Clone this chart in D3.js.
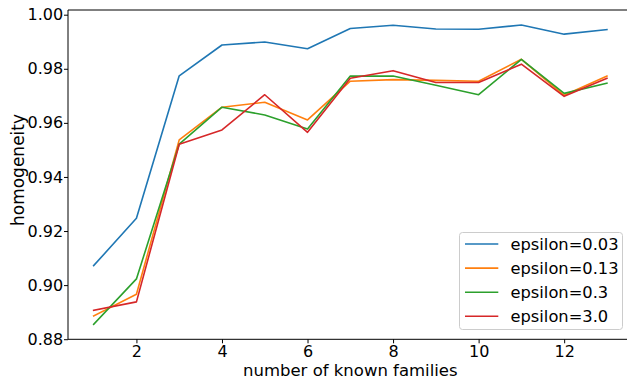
<!DOCTYPE html>
<html>
<head>
<meta charset="utf-8">
<script src="https://cdn.jsdelivr.net/npm/d3@7"></script>
<style>
  body { margin: 0; background: #fff; }
  svg { display: block; font-family: "DejaVu Sans", sans-serif; }
</style>
</head>
<body>
<div id="chart"></div>
<script>
'use strict'
// number of known families
var families = [1, 2, 3, 4, 5, 6, 7, 8, 9, 10, 11, 12, 13];

// homogeneity per epsilon
var eps003 = [0.9072, 0.9247, 0.9774, 0.9888, 0.9899, 0.9874, 0.9949, 0.9961, 0.9947, 0.9946, 0.9962, 0.9928, 0.9945];
var eps013 = [0.8886, 0.8966, 0.9537, 0.9658, 0.9676, 0.9611, 0.9754, 0.9760, 0.9757, 0.9754, 0.9835, 0.9702, 0.9773];
var eps03  = [0.8855, 0.9023, 0.9521, 0.9658, 0.9629, 0.9577, 0.9773, 0.9773, 0.9739, 0.9704, 0.9835, 0.9709, 0.9747];
var eps30  = [0.8907, 0.8938, 0.9521, 0.9574, 0.9704, 0.9565, 0.9765, 0.9793, 0.9749, 0.9749, 0.9817, 0.9698, 0.9765];

var seriesNames = ["epsilon=0.03", "epsilon=0.13", "epsilon=0.3", "epsilon=3.0"];
var seriesColors = ["#1f77b4", "#ff7f0e", "#2ca02c", "#d62728"];
var yTicks = [0.88, 0.90, 0.92, 0.94, 0.96, 0.98, 1.00];
var xTicks = [2, 4, 6, 8, 10, 12];

(function(){
	var series = [eps003, eps013, eps03, eps30].map(function(vals, i){
		return {name: seriesNames[i], color: seriesColors[i],
			points: vals.map(function(v, j){ return {x: families[j], y: v}; })};
	});

	var W = 627, H = 384;
	var mLeft = 68, mTop = 10, mBottom = 339.3, mRight = 632.6;

	// matplotlib style 5% margins
	var xmin = d3.min(families), xmax = d3.max(families);
	var xpad = (xmax - xmin) * 0.05;
	var allY = d3.merge([eps003, eps013, eps03, eps30]);
	var ymin = d3.min(allY), ymax = d3.max(allY);
	var ypad = (ymax - ymin) * 0.05;

	var x = d3.scaleLinear().domain([xmin - xpad, xmax + xpad]).range([mLeft, mRight]);
	var y = d3.scaleLinear().domain([ymin - ypad, ymax + ypad]).range([mBottom, mTop]);

	var svg = d3.select("#chart").append("svg")
		.attr("width", W).attr("height", H);

	// lines
	var line = d3.line().x(function(d){ return x(d.x); }).y(function(d){ return y(d.y); });
	svg.append("g").selectAll("path").data(series).join("path")
		.attr("d", function(d){ return line(d.points); })
		.attr("fill", "none")
		.attr("stroke", function(d){ return d.color; })
		.attr("stroke-width", 1.6)
		.attr("stroke-linejoin", "round")
		.attr("stroke-linecap", "square");

	// axes
	var xAxis = svg.append("g")
		.attr("transform", "translate(0," + mBottom + ")")
		.call(d3.axisBottom(x).tickValues(xTicks).tickFormat(d3.format("d")).tickSize(4).tickPadding(2.7));
	var yAxis = svg.append("g")
		.attr("transform", "translate(" + mLeft + ",0)")
		.call(d3.axisLeft(y).tickValues(yTicks).tickFormat(d3.format(".2f")).tickSize(4).tickPadding(0.8));
	[xAxis, yAxis].forEach(function(ax){
		ax.select(".domain").remove();
		ax.selectAll("text").attr("font-size", 16).attr("fill", "#000")
			.attr("font-family", "DejaVu Sans, sans-serif");
		ax.selectAll("line").attr("stroke", "#000");
	});

	// spines
	svg.append("line").attr("x1", mLeft).attr("x2", W).attr("y1", mTop).attr("y2", mTop)
		.attr("stroke", "#000").attr("stroke-width", 1);
	svg.append("line").attr("x1", mLeft).attr("x2", W).attr("y1", mBottom).attr("y2", mBottom)
		.attr("stroke", "#000").attr("stroke-width", 1);
	svg.append("line").attr("x1", mLeft).attr("x2", mLeft).attr("y1", mTop).attr("y2", mBottom)
		.attr("stroke", "#000").attr("stroke-width", 1);

	// labels
	svg.append("text")
		.attr("x", (mLeft + mRight) / 2).attr("y", 376)
		.attr("text-anchor", "middle").attr("font-size", 16.5)
		.text("number of known families");
	svg.append("text")
		.attr("transform", "translate(24,170) rotate(-90)")
		.attr("text-anchor", "middle").attr("font-size", 17)
		.text("homogeneity");

	// legend
	var lg = svg.append("g");
	lg.append("rect")
		.attr("x", 459.5).attr("y", 232.5).attr("width", 163).attr("height", 97)
		.attr("rx", 3).attr("fill", "#fff").attr("fill-opacity", 0.8)
		.attr("stroke", "#ccc").attr("stroke-width", 1);
	var rows = lg.selectAll("g.row").data(series).join("g")
		.attr("class", "row")
		.attr("transform", function(d, i){ return "translate(0," + (244 + i * 24.1) + ")"; });
	rows.append("line")
		.attr("x1", 465).attr("x2", 498.3)
		.attr("stroke", function(d){ return d.color; }).attr("stroke-width", 1.6);
	rows.append("text")
		.attr("x", 510.5).attr("dy", "0.36em")
		.attr("font-size", 16.3)
		.text(function(d){ return d.name; });
})();
</script>
</body>
</html>
